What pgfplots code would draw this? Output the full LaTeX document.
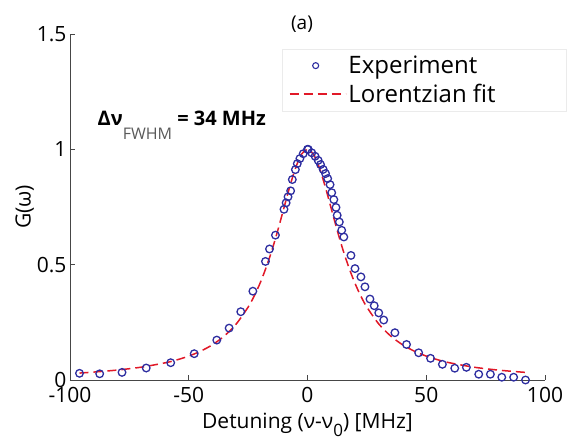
\documentclass[border=0pt]{standalone}
\usepackage{pgfplots}
\pgfplotsset{compat=1.18}
\usepackage{fontspec}
\setmainfont{Open Sans}
\definecolor{expblue}{RGB}{45,45,160}
\definecolor{fitred}{RGB}{225,25,40}
\definecolor{axgray}{RGB}{70,70,70}
\begin{document}
\begin{tikzpicture}[x=1pt,y=1pt]
\useasboundingbox (-70,-59) rectangle (498,380);
\begin{axis}[
  at={(0,0)}, anchor=south west,
  scale only axis, width=475pt, height=346pt,
  xmin=-100, xmax=100, ymin=0, ymax=1.5,
  axis lines=left,
  axis line style={axgray, line width=0.8pt, -},
  every tick/.style={axgray, line width=0.8pt},
  major tick length=5pt,
  tick align=inside,
  xtick={-100,-50,0,50,100},
  ytick={0,0.5,1,1.5},
  /pgf/number format/assume math mode=true,
  tick label style={font=\fontsize{21}{23}\selectfont},
  xticklabel style={yshift=-4pt},
  yticklabel style={/pgf/number format/fixed},
  xlabel={Detuning (ν-ν\raisebox{-0.7ex}{\fontsize{17}{17}\selectfont 0}) [MHz]},
  ylabel={G(ω)},
  label style={font=\fontsize{21}{23}\selectfont},
  xlabel style={yshift=-3pt},
  ylabel style={yshift=-4pt},
  legend style={at={(1.046,0.957)}, anchor=north east, draw=black!8, fill=white,
    font=\fontsize{24}{26}\selectfont, row sep=5pt, inner xsep=7pt, inner ysep=5pt},
  legend cell align=left,
  clip=false,
]
\addplot[only marks, mark=o, mark size=3.8pt, expblue, mark options={line width=1.3pt},
  legend image code/.code={\path[draw=none] (0pt,0pt) -- (56pt,0pt);\draw[line width=1.1pt, solid] (26pt,0pt) circle (3pt);}] coordinates {
(-96.0,0.029) (-87.5,0.027) (-78.1,0.033) (-67.9,0.052) (-57.6,0.075) (-47.7,0.114)
(-38.2,0.173) (-33.0,0.225) (-28.1,0.296) (-23.0,0.385) (-17.7,0.514) (-16.0,0.568)
(-13.5,0.628) (-9.9,0.740) (-9.0,0.768) (-8.2,0.794) (-7.1,0.820) (-6.4,0.869)
(-5.1,0.912) (-4.3,0.938) (-3.2,0.960) (-1.8,0.981) (0,1.0)
(0.3,1.0) (1.8,0.985) (3.2,0.970) (4.5,0.952) (5.5,0.934) (6.6,0.913) (7.6,0.895)
(8.5,0.873) (9.5,0.847) (10.2,0.812) (11.1,0.782) (12.0,0.748) (12.5,0.714)
(13.4,0.685) (14.4,0.649) (15.3,0.620) (18.3,0.540) (20.0,0.483) (22.5,0.447)
(24.2,0.404) (26.3,0.351) (28.1,0.322) (30.0,0.291) (32.1,0.260) (36.8,0.205)
(41.7,0.154) (46.8,0.118) (51.8,0.094) (56.8,0.068) (62.0,0.051) (66.9,0.055)
(72.1,0.025) (77.0,0.025) (81.8,0.012) (86.8,0.012) (91.8,0.0)
};
\addlegendentry{Experiment}
\addplot[fitred, line width=1.5pt, dash pattern=on 9pt off 5pt, smooth,
  legend image code/.code={\draw[dash pattern=on 9pt off 5pt] (0pt,0pt) -- (56pt,0pt);}] coordinates {
(-96,0.030) (-90,0.0344) (-80,0.0432) (-70,0.0557) (-60,0.0743) (-55,0.0872) (-50,0.1036)
(-45,0.125) (-40,0.153) (-35,0.191) (-30,0.243) (-25,0.316) (-22.5,0.363) (-20,0.419)
(-17.5,0.4855) (-15,0.562) (-12.5,0.649) (-10,0.743) (-7.5,0.837) (-5,0.920) (-2.5,0.979) (0,1)
(2.5,0.979) (5,0.920) (7.5,0.837) (10,0.743) (12.5,0.649) (15,0.562) (17.5,0.4855) (20,0.419)
(22.5,0.363) (25,0.316) (30,0.243) (35,0.191) (40,0.153) (45,0.125) (50,0.1036) (55,0.0872)
(60,0.0743) (70,0.0557) (80,0.0432) (90,0.0344) (92,0.033)
};
\addlegendentry{Lorentzian fit\rule{62pt}{0pt}}
\node[anchor=base west, font=\fontsize{20}{22}\selectfont\bfseries, inner sep=0pt] at (axis cs:-88.4,1.104)
  {Δν\raisebox{-14pt}{\fontsize{16}{16}\selectfont\mdseries\color{black!65}FWHM} = 34 MHz};
\end{axis}
\node[font=\fontsize{19}{21}\selectfont] at (232,356) {(a)};
\end{tikzpicture}
\end{document}
